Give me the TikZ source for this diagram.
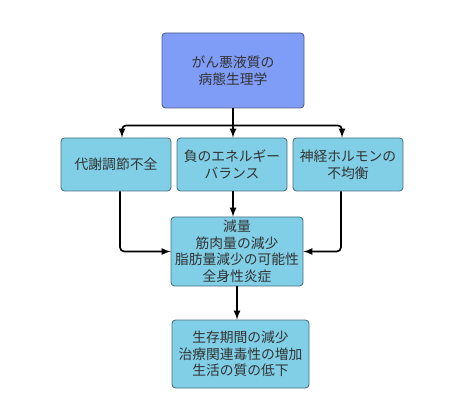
\documentclass[tikz,border=0pt]{standalone}
\usepackage{fontspec}
\setmainfont{Noto Sans CJK JP}
\usetikzlibrary{calc}
\definecolor{topblue}{RGB}{127,156,246}
\definecolor{boxblue}{RGB}{128,207,230}
\definecolor{topline}{RGB}{80,92,140}
\definecolor{boxline}{RGB}{72,112,130}
\definecolor{txt}{RGB}{51,51,51}

\begin{document}
\begin{tikzpicture}[
    box/.style={draw=boxline, fill=boxblue, rounded corners=2.5pt, line width=.6pt,
        align=center, text=txt, font=\fontsize{9.8}{11.8}\selectfont, inner sep=0pt},
    arr/.style={>=latex, ->, line width=1.2pt}
  ]

    \useasboundingbox (0,0) rectangle (11.5,-10.375);

    \node[box, fill=topblue, draw=topline, minimum width=3.55cm, minimum height=1.875cm]
        (top) at (5.825,-1.7625) {がん悪液質の\\病態生理学};

    \node[box, minimum width=2.75cm, minimum height=1.325cm] (met) at (2.9,-4.1125) {代謝調節不全};
    \node[box, minimum width=2.75cm, minimum height=1.325cm] (ene) at (5.8,-4.1125) {負のエネルギー\\バランス};
    \node[box, minimum width=2.75cm, minimum height=1.325cm] (neu) at (8.7,-4.1125) {神経ホルモンの\\不均衡};

    \node[box, minimum width=3.3cm, minimum height=1.725cm] (loss) at (5.925,-6.2875)
        {減量\\筋肉量の減少\\脂肪量減少の可能性\\全身性炎症};

    \node[box, minimum width=3.425cm, minimum height=1.7cm] (out) at (6.0125,-8.85)
        {生存期間の減少\\治療関連毒性の増加\\生活の質の低下};

    \coordinate (bar) at ($(top.south)+(0,-.425)$);
    \coordinate (eneout) at ($(ene.south)+(.025,0)$);

    \draw[arr] (top.south) -- (top.south |- ene.north);
    \draw[arr, rounded corners=3pt] (bar) -| ($(met.north)+(.15,0)$);
    \draw[arr, rounded corners=3pt] (bar) -| ($(neu.north)+(-.15,0)$);

    \draw[arr, rounded corners=3pt] ($(met.south)+(.1,0)$) |- (loss.west);
    \draw[arr, rounded corners=3pt] ($(neu.south)+(-.175,0)$) |- (loss.east);
    \draw[arr] (eneout) -- (eneout |- loss.north);

    \draw[arr] (loss.south) -- (loss.south |- out.north);

\end{tikzpicture}
\end{document}
